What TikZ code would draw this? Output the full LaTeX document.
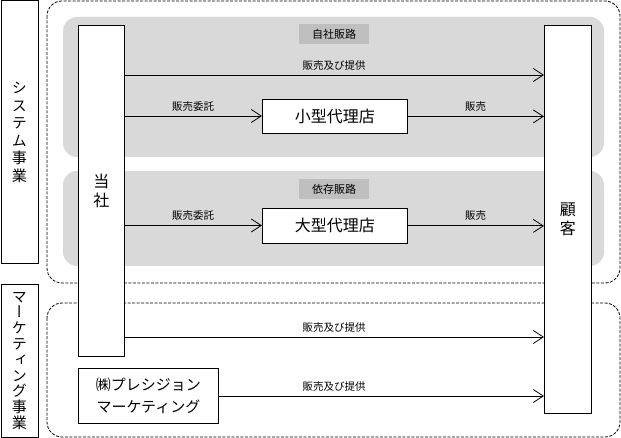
\documentclass[tikz,border=0pt]{standalone}
\usepackage{fontspec}
\setmainfont{Noto Sans CJK JP}
\newfontfamily\vjp[RawFeature=+vert]{Noto Sans CJK JP}
\usetikzlibrary{arrows.meta}
\definecolor{grayfill}{HTML}{D9D9D9}
\definecolor{tagfill}{HTML}{BFBFBF}
\tikzset{
  x=1pt,y=-1pt,
  box/.style={draw,line width=0.8pt,fill=white,inner sep=0pt},
  region/.style={draw,dash pattern=on 3pt off 1.5pt,line width=0.8pt,rounded corners=15pt},
  lane/.style={fill=grayfill,rounded corners=14pt},
  tag/.style={fill=tagfill,inner sep=0pt,minimum width=70pt,minimum height=20pt,font=\fontsize{11}{13}\selectfont},
  flow/.style={line width=0.8pt,-{Straight Barb[length=10pt,width=13pt,line width=0.8pt]}},
  lbl/.style={font=\fontsize{10.5}{12}\selectfont,inner sep=0pt}
}
\begin{document}
\begin{tikzpicture}
\useasboundingbox (0,0) rectangle (621,438);
% side labels
\node[box,minimum width=37pt,minimum height=263pt,anchor=north west,align=center,font=\vjp\fontsize{15}{17.5}\selectfont] (sys) at (0.5,0.5) {シ\\ス\\テ\\ム\\事\\業};
\node[box,minimum width=37pt,minimum height=153pt,anchor=north west,align=center,font=\vjp\fontsize{15}{15.8}\selectfont] (mkt) at (0.5,284) {マ\\ー\\ケ\\テ\\ィ\\ン\\グ\\事\\業};
% regions
\draw[region] (47,1) rectangle (620,283);
\draw[region] (47,303) rectangle (620,437);
\fill[lane] (63,17) rectangle (604,157);
\fill[lane] (63,171) rectangle (604,266);
\node[tag] (t1) at (334,34.5) {自社販路};
\node[tag] (t2) at (334,189) {依存販路};
% main boxes
\node[box,anchor=north west,minimum width=46pt,minimum height=331pt,font=\fontsize{16}{19}\selectfont,align=center] (self) at (78,25) {当\\社};
\node[box,anchor=north west,minimum width=47pt,minimum height=388pt,font=\fontsize{16}{19}\selectfont,align=center] (cust) at (544,25) {顧\\客};
\node[box,anchor=north west,minimum width=145pt,minimum height=34pt,font=\fontsize{16}{19}\selectfont] (small) at (262,99) {小型代理店};
\node[box,anchor=north west,minimum width=145pt,minimum height=35pt,font=\fontsize{16}{19}\selectfont] (large) at (262,208) {大型代理店};
\node[box,anchor=north west,minimum width=140pt,minimum height=55pt,font=\fontsize{15}{22}\selectfont,align=center] (psm) at (78,368) {㈱プレシジョン\\マーケティング};
% flows
\coordinate (a1) at (124,75);
\draw[flow] (a1) -- (a1 -| cust.west);
\node[lbl] at (334,66) {販売及び提供};
\coordinate (a2) at (124,116);
\draw[flow] (a2) -- (a2 -| small.west);
\node[lbl] at (193,107) {販売委託};
\draw[flow] (small.east) -- (small.east -| cust.west);
\node[lbl] at (475.5,107) {販売};
\coordinate (a3) at (124,225.5);
\draw[flow] (a3) -- (a3 -| large.west);
\node[lbl] at (193,216) {販売委託};
\draw[flow] (large.east) -- (large.east -| cust.west);
\node[lbl] at (475.5,216) {販売};
\coordinate (a4) at (124,337);
\draw[flow] (a4) -- (a4 -| cust.west);
\node[lbl] at (334,328) {販売及び提供};
\coordinate (a5) at (218,396);
\draw[flow] (psm.east |- a5) -- (a5 -| cust.west);
\node[lbl] at (334,387) {販売及び提供};
\end{tikzpicture}
\end{document}
